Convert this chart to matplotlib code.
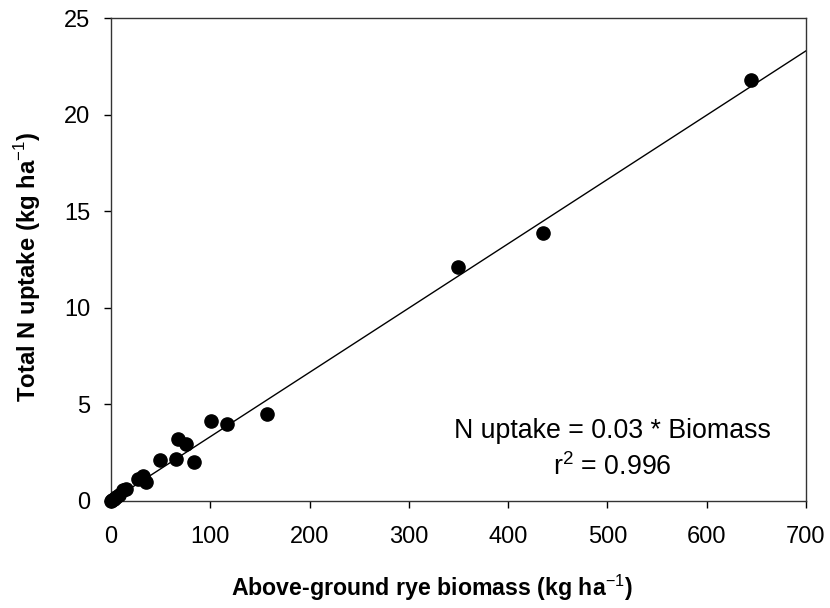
import matplotlib
matplotlib.use("Agg")
import matplotlib.pyplot as plt
import numpy as np

plt.rcParams["font.family"] = ["Liberation Sans", "DejaVu Sans"]
plt.rcParams["mathtext.fontset"] = "custom"
plt.rcParams["mathtext.rm"] = "Liberation Sans"
plt.rcParams["mathtext.bf"] = "Liberation Sans:bold"

# rye biomass (kg/ha) vs total N uptake (kg/ha)
biomass = [0, 1, 3, 5, 8, 12, 15, 27, 32, 35, 49, 65, 68, 76, 84, 101, 117, 157, 350, 435, 645]
n_uptake = [0, 0.05, 0.1, 0.2, 0.3, 0.55, 0.6, 1.15, 1.3, 1.0, 2.1, 2.15, 3.2, 2.95, 2.0, 4.15, 4.0, 4.5, 12.1, 13.9, 21.8]

slope = 0.0333
fit_x = [0, 700]

fig = plt.figure(figsize=(8.3, 6.08), dpi=100)
ax = fig.add_axes([0.1337, 0.176, 0.8373, 0.794])

ax.plot(fit_x, [slope * v for v in fit_x], color="black", linewidth=1.0)
ax.plot(biomass, n_uptake, "o", color="black", markersize=9.5, clip_on=False, zorder=3)

ax.set_xlim(0, 700)
ax.set_ylim(0, 25)
ax.set_xticks(np.arange(0, 701, 100))
ax.set_yticks(np.arange(0, 26, 5))
ax.tick_params(axis="both", direction="out", length=5, width=1, labelsize=17)
ax.tick_params(axis="x", pad=13)
ax.tick_params(axis="y", pad=10)
for s in ax.spines.values():
    s.set_linewidth(1.0)
    s.set_color("#333333")

ax.set_xlabel("Above-ground rye biomass (kg ha$^{-1}$)", fontsize=16.7, fontweight="bold")
ax.set_ylabel("Total N uptake (kg ha$^{-1}$)", fontsize=17.2, fontweight="bold")
ax.xaxis.set_label_coords(0.462, -0.148)
ax.yaxis.set_label_coords(-0.098, 0.484)

ax.text(505, 3.26, "N uptake = 0.03 * Biomass", ha="center", va="baseline", fontsize=19.3)
ax.text(505, 1.35, "r$^2$ = 0.996", ha="center", va="baseline", fontsize=19.3)

fig.savefig("out.png", dpi=100)
